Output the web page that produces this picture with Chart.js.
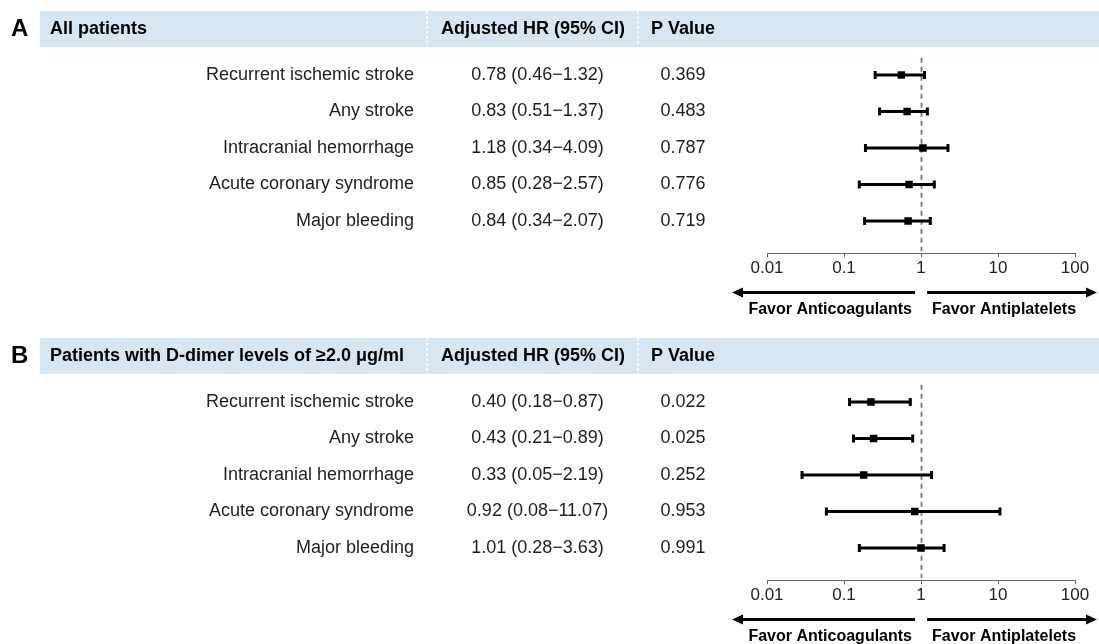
<!DOCTYPE html>
<html><head><meta charset="utf-8">
<script src="https://cdn.jsdelivr.net/npm/chart.js@4.4.1/dist/chart.umd.min.js"></script>
<style>
html,body{margin:0;padding:0;background:#fff;}
#wrap{position:relative;width:1099px;height:644px;overflow:hidden;background:#fff;}
canvas{position:absolute;left:0;}
#cA{top:0px;} #cB{top:327px;}
</style></head><body>
<div id="wrap"><canvas id="cA" width="1099" height="317"></canvas><canvas id="cB" width="1099" height="317"></canvas></div>
<script>
// ---------- data ----------
const outcomes = ['Recurrent ischemic stroke','Any stroke','Intracranial hemorrhage','Acute coronary syndrome','Major bleeding'];
const panelLetters = ['A','B'];
const panelTitles = ['All patients','Patients with D-dimer levels of \u22652.0 \u03bcg/ml'];
const columnHeaders = ['Adjusted HR (95% CI)','P Value'];

const hrTextA = ['0.78 (0.46\u22121.32)','0.83 (0.51\u22121.37)','1.18 (0.34\u22124.09)','0.85 (0.28\u22122.57)','0.84 (0.34\u22122.07)'];
const pTextA  = ['0.369','0.483','0.787','0.776','0.719'];
const estA = [0.555, 0.66, 1.06, 0.70, 0.68];
const loA  = [0.254, 0.29, 0.19, 0.158, 0.185];
const hiA  = [1.11, 1.21, 2.24, 1.49, 1.32];

const hrTextB = ['0.40 (0.18\u22120.87)','0.43 (0.21\u22120.89)','0.33 (0.05\u22122.19)','0.92 (0.08\u221211.07)','1.01 (0.28\u22123.63)'];
const pTextB  = ['0.022','0.025','0.252','0.953','0.991'];
const estB = [0.224, 0.242, 0.18, 0.83, 1.0];
const loB  = [0.118, 0.133, 0.0285, 0.059, 0.158];
const hiB  = [0.726, 0.78, 1.37, 10.6, 1.99];

const xTicks = [0.01, 0.1, 1, 10, 100];
const xTickLabels = ['0.01','0.1','1','10','100'];
const favorLabels = ['Favor Anticoagulants','Favor Antiplatelets'];

// ---------- style / layout ----------
const FONT = '"Liberation Sans", Arial, Helvetica, sans-serif';
const BAND_COLOR = '#d6e6f3';
const TEXT_COLOR = '#1e1e1e';

function makePanel(canvasId, letter, title, hrText, pText, est, lo, hi) {
  const datasets = [{
    data: est.map((v, i) => ({x: v, y: i + 1})),
    pointStyle: 'rect', pointRadius: 5.3, pointHoverRadius: 5.3,
    backgroundColor: '#000', borderColor: '#000', borderWidth: 0, showLine: false, clip: false
  }];
  lo.forEach((l, i) => {
    datasets.push({
      data: [{x: l, y: i + 1}, {x: hi[i], y: i + 1}],
      showLine: true, borderColor: '#000', borderWidth: 3,
      pointStyle: 'line', pointRotation: 90, pointRadius: 4, pointHoverRadius: 4,
      pointBorderWidth: 3, pointBorderColor: '#000', pointBackgroundColor: '#000', clip: false
    });
  });

  const deco = {
    id: 'deco' + canvasId,
    beforeDraw(chart) {
      const ctx = chart.ctx;
      ctx.save();
      ctx.fillStyle = '#fff';
      ctx.fillRect(0, 0, chart.width, chart.height);
      // header band
      ctx.fillStyle = BAND_COLOR;
      ctx.fillRect(40, 11, chart.width - 40, 36);
      ctx.strokeStyle = '#ffffff';
      ctx.lineWidth = 1.6;
      ctx.setLineDash([3, 2]);
      [427, 638].forEach(x => { ctx.beginPath(); ctx.moveTo(x, 11); ctx.lineTo(x, 47); ctx.stroke(); });
      ctx.setLineDash([]);
      ctx.fillStyle = '#000';
      ctx.textBaseline = 'middle';
      ctx.textAlign = 'left';
      ctx.font = 'bold 24px ' + FONT;
      ctx.fillText(letter, 11, 29);
      ctx.font = 'bold 18px ' + FONT;
      ctx.fillText(title, 50, 29.5);
      ctx.fillText(columnHeaders[0], 441, 29.5);
      ctx.fillText(columnHeaders[1], 651, 29.5);
      // table columns
      const ys = chart.scales.y;
      ctx.font = '18px ' + FONT;
      ctx.fillStyle = TEXT_COLOR;
      ctx.textAlign = 'center';
      hrText.forEach((t, i) => ctx.fillText(t, 537.5, ys.getPixelForValue(i + 1)));
      pText.forEach((t, i) => ctx.fillText(t, 683, ys.getPixelForValue(i + 1)));
      ctx.restore();
    },
    beforeDatasetsDraw(chart) {
      const ctx = chart.ctx, xs = chart.scales.x, a = chart.chartArea;
      const x1 = Math.round(xs.getPixelForValue(1)) + 0.5;
      ctx.save();
      ctx.strokeStyle = '#777';
      ctx.lineWidth = 1.8;
      ctx.setLineDash([5, 4]);
      ctx.beginPath(); ctx.moveTo(x1, a.top + 1); ctx.lineTo(x1, a.bottom - 2); ctx.stroke();
      ctx.restore();
    },
    afterDraw(chart) {
      const ctx = chart.ctx, xs = chart.scales.x, a = chart.chartArea;
      const x1 = xs.getPixelForValue(1);
      const ay = a.bottom + 39.2;
      const tipL = a.left - 35, tipR = chart.width - 2;
      ctx.save();
      ctx.strokeStyle = '#000'; ctx.fillStyle = '#000';
      ctx.lineWidth = 3;
      ctx.beginPath(); ctx.moveTo(x1 - 6, ay); ctx.lineTo(tipL + 8, ay); ctx.stroke();
      ctx.beginPath(); ctx.moveTo(tipL, ay); ctx.lineTo(tipL + 11, ay - 5); ctx.lineTo(tipL + 11, ay + 5); ctx.closePath(); ctx.fill();
      ctx.beginPath(); ctx.moveTo(x1 + 6, ay); ctx.lineTo(tipR - 8, ay); ctx.stroke();
      ctx.beginPath(); ctx.moveTo(tipR, ay); ctx.lineTo(tipR - 11, ay - 5); ctx.lineTo(tipR - 11, ay + 5); ctx.closePath(); ctx.fill();
      ctx.font = 'bold 16px ' + FONT;
      ctx.textBaseline = 'middle';
      ctx.textAlign = 'right';
      ctx.fillText(favorLabels[0], x1 - 9, ay + 17);
      ctx.textAlign = 'left';
      ctx.fillText(favorLabels[1], x1 + 11, ay + 17);
      ctx.restore();
    }
  };

  return new Chart(document.getElementById(canvasId), {
    type: 'scatter',
    data: {datasets},
    options: {
      responsive: false, animation: false, devicePixelRatio: 1,
      layout: {padding: {left: 0, right: 24, top: 56.75, bottom: 0}},
      plugins: {legend: {display: false}, tooltip: {enabled: false}},
      events: [],
      scales: {
        x: {
          type: 'logarithmic', position: 'bottom', min: 0.01, max: 100,
          afterBuildTicks: s => { s.ticks = xTicks.map(v => ({value: v, major: false})); },
          afterFit: s => { s.height = 63.7; },
          grid: {drawOnChartArea: false, drawTicks: true, tickLength: 4, color: '#666', lineWidth: 1},
          border: {display: true, color: '#666', width: 1},
          ticks: {
            autoSkip: false, maxRotation: 0, padding: 1, color: '#222',
            font: {family: FONT, size: 17},
            callback: v => xTickLabels[xTicks.indexOf(v)]
          }
        },
        y: {
          type: 'linear', position: 'left', reverse: true, min: 0.5, max: 5.885,
          afterBuildTicks: s => { s.ticks = outcomes.map((_, i) => ({value: i + 1})); },
          afterFit: s => { s.width = 767; s.paddingTop = 0; s.paddingBottom = 0; },
          grid: {display: false, drawTicks: false},
          border: {display: false},
          ticks: {
            autoSkip: false, padding: 353, color: TEXT_COLOR,
            font: {family: FONT, size: 18},
            callback: v => outcomes[v - 1]
          }
        }
      }
    },
    plugins: [deco]
  });
}

makePanel('cA', panelLetters[0], panelTitles[0], hrTextA, pTextA, estA, loA, hiA);
makePanel('cB', panelLetters[1], panelTitles[1], hrTextB, pTextB, estB, loB, hiB);
</script>
</body></html>
